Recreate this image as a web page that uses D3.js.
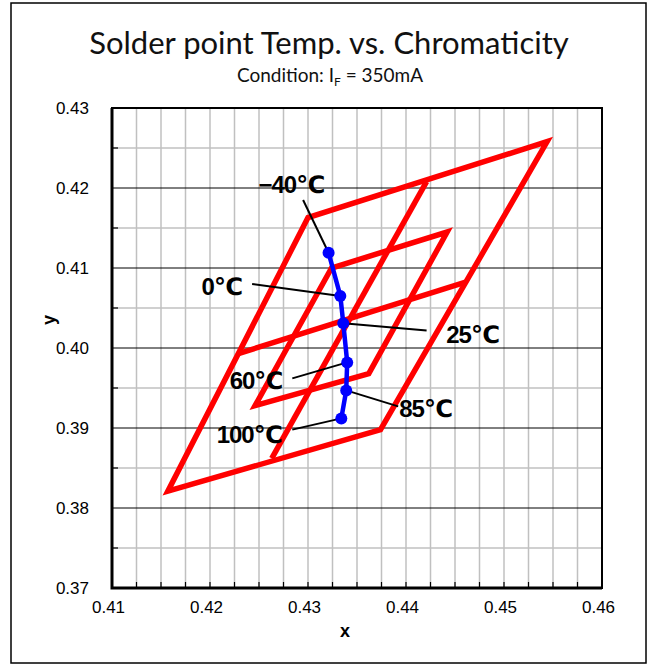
<!DOCTYPE html>
<html><head><meta charset="utf-8">
<script src="https://cdn.jsdelivr.net/npm/d3@7"></script>
<style>body{margin:0;background:#fff}</style>
</head><body>
<svg id="c" width="653" height="666"></svg>
<script>
// ---- data ----
const xTicks = [0.41, 0.42, 0.43, 0.44, 0.45, 0.46];
const yTicks = [0.37, 0.38, 0.39, 0.40, 0.41, 0.42, 0.43];
const binOuter = [[0.4157, 0.3821], [0.4374, 0.3898], [0.4544, 0.4258], [0.4300, 0.4163]];
const binInner = [[0.4246, 0.3928], [0.4362, 0.3968], [0.4442, 0.4145], [0.4324, 0.4100]];
const dividerH = [[0.4229, 0.3993], [0.4460, 0.4082]];
const dividerV = [[0.4263, 0.3862], [0.4421, 0.4208]];
const temps = ["−40℃", "0℃", "25℃", "60℃", "85℃", "100℃"];
const cieX = [0.4321, 0.4333, 0.4336, 0.4340, 0.4339, 0.4334];
const cieY = [0.4119, 0.4065, 0.4031, 0.3982, 0.3947, 0.3912];
// annotation anchors (data units)
const labelX = [0.4283, 0.4212, 0.4468, 0.4247, 0.4420, 0.4240];
const labelY = [0.4205, 0.4077, 0.4017, 0.3960, 0.3925, 0.3892];
const leaderX = [0.4295, 0.4243, 0.4421, 0.4284, 0.4392, 0.4284];
const leaderY = [0.4185, 0.4080, 0.4022, 0.3962, 0.3927, 0.3898];

// ---- chart ----
const svg = d3.select("#c");
const x = d3.scaleLinear().domain([0.41, 0.46]).range([112, 602]);
const y = d3.scaleLinear().domain([0.37, 0.43]).range([588, 108]);

svg.append("rect").attr("x", 11).attr("y", 3).attr("width", 635).attr("height", 660)
  .attr("fill", "#fff").attr("stroke", "#000").attr("stroke-width", 1.5);

svg.append("text").attr("x", 329).attr("y", 54).attr("text-anchor", "middle")
  .style("font-family", "Lato, 'Open Sans', sans-serif").style("font-size", "31px").attr("fill", "#111")
  .text("Solder point Temp. vs. Chromaticity");
const sub = svg.append("text").attr("x", 330).attr("y", 82).attr("text-anchor", "middle")
  .style("font-family", "Lato, 'Open Sans', sans-serif").style("font-size", "19px").attr("fill", "#111");
sub.append("tspan").text("Condition: I");
sub.append("tspan").attr("dy", 4).style("font-size", "12px").text("F");
sub.append("tspan").attr("dy", -4).text(" = 350mA");

// grid
const minorX = d3.range(0.4125, 0.4599, 0.0025);
svg.append("g").selectAll("line").data(minorX).join("line")
  .attr("x1", d => x(d)).attr("x2", d => x(d)).attr("y1", y(0.43)).attr("y2", y(0.37))
  .attr("stroke", "#c0c0c0").attr("stroke-width", 1.5);
const minorY = d3.range(0.375, 0.4299, 0.01);
svg.append("g").selectAll("line").data(minorY).join("line")
  .attr("x1", x(0.41)).attr("x2", x(0.46)).attr("y1", d => y(d)).attr("y2", d => y(d))
  .attr("stroke", "#c0c0c0").attr("stroke-width", 1.5);
svg.append("g").selectAll("line").data(yTicks.slice(1, -1)).join("line")
  .attr("x1", x(0.41)).attr("x2", x(0.46)).attr("y1", d => y(d)).attr("y2", d => y(d))
  .attr("stroke", "#000").attr("stroke-width", 1);
// inner ticks
svg.append("g").selectAll("line").data(minorX).join("line")
  .attr("x1", d => x(d)).attr("x2", d => x(d)).attr("y1", y(0.37)).attr("y2", y(0.37) - 6)
  .attr("stroke", "#000").attr("stroke-width", 1.2);
svg.append("g").selectAll("line").data(minorY).join("line")
  .attr("x1", x(0.41)).attr("x2", x(0.41) + 6).attr("y1", d => y(d)).attr("y2", d => y(d))
  .attr("stroke", "#000").attr("stroke-width", 1.2);

// frame
svg.append("rect").attr("x", x(0.41)).attr("y", y(0.43))
  .attr("width", x(0.46) - x(0.41)).attr("height", y(0.37) - y(0.43))
  .attr("fill", "none").attr("stroke", "#000").attr("stroke-width", 2);
svg.append("path").attr("d", `M${x(0.41)},${y(0.43)}V${y(0.37)}H${x(0.46)}`)
  .attr("fill", "none").attr("stroke", "#000").attr("stroke-width", 3);

// axes labels
const xAxis = d3.axisBottom(x).tickValues(xTicks).tickSize(0).tickFormat(d3.format(".2f"));
const gx = svg.append("g").attr("transform", `translate(-4,${y(0.37) + 10})`).call(xAxis);
gx.select(".domain").remove();
gx.selectAll("text").style("font-family", "'Liberation Sans', Arial, sans-serif").style("font-size", "17px").attr("fill", "#000");
const yAxis = d3.axisLeft(y).tickValues(yTicks).tickSize(0).tickFormat(d3.format(".2f"));
const gy = svg.append("g").attr("transform", `translate(${x(0.41) - 23},0)`).call(yAxis);
gy.select(".domain").remove();
gy.selectAll("text").attr("x", 0).style("font-family", "'Liberation Sans', Arial, sans-serif").style("font-size", "17px").attr("fill", "#000");

svg.append("text").attr("x", 345).attr("y", 637).attr("text-anchor", "middle")
  .style("font-family", "'Liberation Sans', Arial, sans-serif").style("font-size", "18px").style("font-weight", "bold").text("x");
svg.append("text").attr("transform", `translate(55,320) rotate(-90)`).attr("text-anchor", "middle")
  .style("font-family", "'Liberation Sans', Arial, sans-serif").style("font-size", "18px").style("font-weight", "bold").text("y");

// bins
const line = d3.line().x(d => x(d[0])).y(d => y(d[1]));
const red = svg.append("g").attr("fill", "none").attr("stroke", "#ff0000").attr("stroke-width", 5.5)
  .attr("stroke-linejoin", "miter");
red.append("path").attr("d", line(binOuter) + "Z");
red.append("path").attr("d", line(binInner) + "Z");
red.append("path").attr("d", line(dividerH));
red.append("path").attr("d", line(dividerV));

// leaders
const pts = temps.map((t, i) => ({ t, x: cieX[i], y: cieY[i], lx: labelX[i], ly: labelY[i], ex: leaderX[i], ey: leaderY[i] }));
svg.append("g").selectAll("line").data(pts).join("line")
  .attr("x1", d => x(d.ex)).attr("y1", d => y(d.ey)).attr("x2", d => x(d.x)).attr("y2", d => y(d.y))
  .attr("stroke", "#000").attr("stroke-width", 2);
svg.append("g").selectAll("text").data(pts).join("text")
  .attr("x", d => x(d.lx)).attr("y", d => y(d.ly)).attr("dy", "0.36em").attr("text-anchor", "middle")
  .style("font-family", "'Liberation Sans', Arial, 'DejaVu Sans', sans-serif").style("font-size", "24px")
  .style("font-weight", "bold").style("letter-spacing", "-1px").text(d => d.t);

// blue series
svg.append("path").attr("d", d3.line().x(d => x(d.x)).y(d => y(d.y))(pts))
  .attr("fill", "none").attr("stroke", "#0000ff").attr("stroke-width", 4.5);
svg.append("g").selectAll("circle").data(pts).join("circle")
  .attr("cx", d => x(d.x)).attr("cy", d => y(d.y)).attr("r", 6).attr("fill", "#0000ff");
</script>
</body></html>
